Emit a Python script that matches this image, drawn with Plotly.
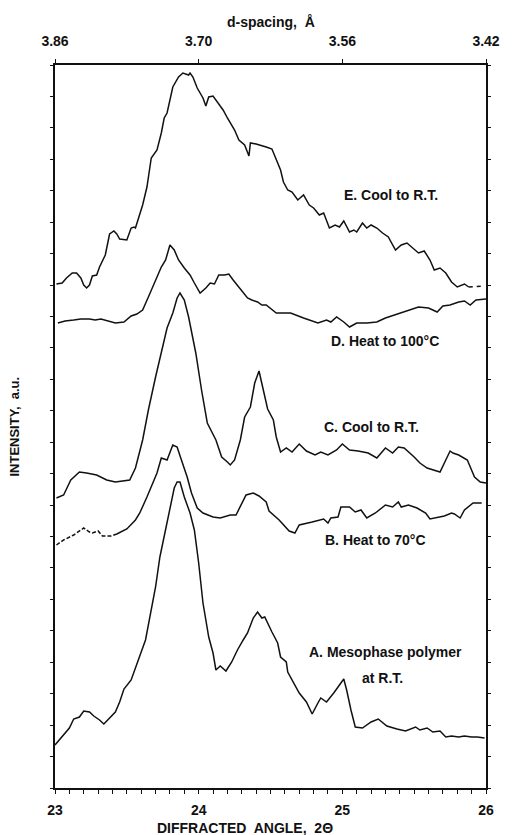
import plotly.graph_objects as go

# ---- data: 2-theta (deg) and intensity (a.u.) ----
e_x = [23.01,23.05,23.08,23.12,23.15,23.18,23.20,23.22,23.24,23.26,23.29,23.31,23.35,23.38,23.41,23.43,23.45,23.50,23.53,23.55,23.56,23.58,23.61,23.64,23.67,23.71,23.74,23.76,23.78,23.82,23.86,23.89,23.93,23.94,23.96,23.99,24.03,24.05,24.07,24.10,24.13,24.17,24.20,24.22,24.25,24.28,24.32,24.35,24.36,24.40,24.43,24.47,24.51,24.55,24.57,24.59,24.62,24.65,24.69,24.73,24.77,24.80,24.84,24.87,24.91,24.95,24.98,25.01,25.05,25.08,25.10,25.14,25.17,25.20,25.24,25.28,25.32,25.37,25.41,25.45,25.49,25.53,25.57,25.61,25.64,25.68,25.72,25.76,25.80,25.85,25.88]
e_y = [504,505,510,515,515,510,503,500,503,512,513,521,533,554,557,554,549,548,560,561,560,570,583,601,630,638,655,670,675,701,711,715,713,715,711,700,690,682,691,692,686,678,670,665,658,648,643,632,645,644,643,641,639,626,618,606,598,596,588,593,583,580,573,575,560,563,561,567,556,558,556,565,560,563,560,555,551,538,543,545,540,535,537,528,518,520,515,506,501,504,501]
e_tail_x = [25.88, 25.99]
e_tail_y = [501, 502]

d_x = [23.02,23.07,23.13,23.18,23.24,23.28,23.32,23.37,23.42,23.48,23.53,23.57,23.61,23.65,23.69,23.74,23.77,23.80,23.83,23.86,23.90,23.94,23.97,24.01,24.05,24.08,24.11,24.14,24.18,24.21,24.24,24.29,24.34,24.37,24.41,24.44,24.47,24.54,24.64,24.73,24.83,24.89,24.92,24.96,25.01,25.05,25.10,25.17,25.24,25.30,25.40,25.47,25.53,25.60,25.66,25.70,25.75,25.81,25.85,25.89,25.93,26.00]
d_y = [465,467,468,469,469,468,469,467,465,466,472,474,478,491,505,521,528,543,538,528,520,513,505,495,500,505,504,513,513,514,508,499,490,488,486,483,483,475,475,470,465,468,466,471,466,461,465,465,466,470,475,478,481,480,476,482,483,486,487,483,488,489]

c_x = [23.01,23.06,23.11,23.17,23.22,23.29,23.36,23.42,23.52,23.56,23.61,23.65,23.70,23.75,23.78,23.82,23.85,23.87,23.90,23.93,23.98,24.02,24.06,24.12,24.16,24.20,24.22,24.25,24.29,24.32,24.36,24.39,24.42,24.45,24.48,24.52,24.54,24.57,24.61,24.65,24.70,24.75,24.81,24.85,24.90,24.96,25.00,25.05,25.11,25.18,25.24,25.30,25.35,25.39,25.43,25.50,25.54,25.59,25.64,25.68,25.75,25.77,25.81,25.87,25.92,25.96,26.00]
c_y = [290,293,308,316,315,313,308,306,308,320,348,378,411,441,460,475,490,495,488,471,435,398,365,348,331,326,323,328,348,371,381,405,417,398,379,368,351,336,340,336,344,337,333,336,333,338,344,338,337,335,330,340,335,341,340,331,325,320,318,316,337,335,333,328,311,306,305]

b_dash_x = [23.01,23.06,23.13,23.20,23.24,23.26,23.30,23.33,23.39,23.43]
b_dash_y = [243,248,253,260,256,255,257,252,252,254]
b_x = [23.43,23.50,23.56,23.59,23.64,23.71,23.74,23.78,23.82,23.85,23.88,23.92,23.95,23.99,24.03,24.10,24.15,24.22,24.26,24.31,24.33,24.38,24.42,24.47,24.49,24.56,24.63,24.67,24.70,24.79,24.87,24.90,24.92,24.97,24.99,25.05,25.09,25.13,25.17,25.23,25.30,25.35,25.39,25.41,25.46,25.52,25.58,25.61,25.67,25.71,25.76,25.78,25.82,25.85,25.91,25.97]
b_y = [254,259,268,275,291,315,330,328,343,341,328,311,295,280,275,271,270,273,273,288,293,295,292,286,277,268,257,255,263,266,269,265,270,271,281,281,276,278,270,275,283,281,286,281,283,280,275,269,271,272,275,274,270,278,285,285]

a_x = [23.00,23.05,23.10,23.13,23.17,23.20,23.24,23.27,23.31,23.34,23.38,23.42,23.45,23.48,23.53,23.56,23.60,23.63,23.66,23.70,23.73,23.77,23.80,23.83,23.85,23.87,23.90,23.94,23.97,24.00,24.03,24.07,24.10,24.12,24.15,24.19,24.23,24.27,24.31,24.34,24.38,24.41,24.44,24.46,24.51,24.55,24.57,24.61,24.62,24.66,24.70,24.75,24.79,24.83,24.85,24.89,24.94,25.01,25.03,25.06,25.09,25.14,25.20,25.25,25.31,25.38,25.44,25.51,25.54,25.59,25.63,25.68,25.72,25.76,25.81,25.85,25.90,25.94,25.99]
a_y = [43,51,60,69,71,77,76,72,68,64,70,76,86,99,108,121,136,148,171,201,231,258,281,300,306,306,291,275,258,225,185,151,135,118,122,117,126,138,148,155,170,176,170,171,156,145,131,126,116,105,95,86,74,85,90,86,95,109,98,78,61,60,66,69,62,59,57,61,58,60,56,57,51,52,51,52,51,51,50]

x_ticks = [23, 24, 25, 26]
x_tick_labels = ["23", "24", "25", "26"]
d_tick_labels = ["3.86", "3.70", "3.56", "3.42"]

labels = [
    ("E. Cool to R.T.", 25.34, 593),
    ("D. Heat to 100°C", 25.30, 447),
    ("C. Cool to R.T.", 25.20, 361),
    ("B. Heat to 70°C", 25.23, 248),
    ("A. Mesophase polymer", 25.30, 136),
    ("at R.T.", 25.28, 110),
]

INK = "#111111"
FONT = "Liberation Sans"
LW = 1.5

fig = go.Figure()
def add(x, y, dash="solid"):
    fig.add_trace(go.Scatter(x=x, y=y, mode="lines", showlegend=False,
                             line=dict(color=INK, width=LW, dash=dash),
                             hoverinfo="skip"))

add(e_x, e_y)
add(e_tail_x, e_tail_y, dash="4px,4px")
add(d_x, d_y)
add(c_x, c_y)
add(b_dash_x, b_dash_y, dash="4px,2px")
add(b_x, b_y)
add(a_x, a_y)

# invisible trace on the top (d-spacing) axis so it renders
fig.add_trace(go.Scatter(x=[23, 26], y=[None, None], xaxis="x2", mode="lines",
                         showlegend=False, hoverinfo="skip"))

for text, x, y in labels:
    fig.add_annotation(x=x, y=y, xref="x", yref="y", text=f"<b>{text}</b>",
                       showarrow=False, font=dict(family=FONT, size=14, color=INK),
                       xanchor="center", yanchor="middle")

fig.add_annotation(x=0.44, y=-0.056, xref="paper", yref="paper",
                   text="<b>DIFFRACTED  ANGLE,  2Θ</b>", showarrow=False,
                   font=dict(family=FONT, size=14, color=INK), xanchor="center", yanchor="middle")
fig.add_annotation(x=0.5, y=1.059, xref="paper", yref="paper",
                   text="<b>d-spacing,  Å</b>", showarrow=False,
                   font=dict(family=FONT, size=14, color=INK), xanchor="center", yanchor="middle")
fig.add_annotation(x=-0.095, y=0.5, xref="paper", yref="paper",
                   text="<b>INTENSITY,  a.u.</b>", showarrow=False, textangle=-90,
                   font=dict(family=FONT, size=13, color=INK), xanchor="center", yanchor="middle")

fig.update_layout(
    width=504, height=827,
    margin=dict(l=47, r=23, t=57, b=47),
    paper_bgcolor="white", plot_bgcolor="white",
    font=dict(family=FONT, color=INK),
    xaxis=dict(range=[23, 26], tickvals=x_ticks, ticktext=[f"<b>{t}</b>" for t in x_tick_labels],
               showgrid=False, zeroline=False, showline=True, linecolor=INK, linewidth=1.6,
               ticks="outside", ticklen=4, tickwidth=1.2, tickcolor=INK,
               minor=dict(dtick=0.1, ticks="outside", ticklen=4, tickwidth=1.2, tickcolor=INK),
               tickfont=dict(family=FONT, size=14, color=INK), ticklabelstandoff=4),
    xaxis2=dict(range=[23, 26], overlaying="x", side="top", tickvals=x_ticks,
                ticktext=[f"<b>{t}</b>" for t in d_tick_labels],
                showgrid=False, zeroline=False, showline=True, linecolor=INK, linewidth=1.6,
                ticks="outside", ticklen=4, tickwidth=1.2, tickcolor=INK,
                tickfont=dict(family=FONT, size=14, color=INK), ticklabelstandoff=8),
    yaxis=dict(range=[0, 723], tick0=0, dtick=723/23, showticklabels=False,
               showgrid=False, zeroline=False, showline=True, linecolor=INK, linewidth=1.6,
               mirror="ticks", ticks="outside", ticklen=3, tickwidth=1, tickcolor=INK),
)

fig.write_html("out.html")
